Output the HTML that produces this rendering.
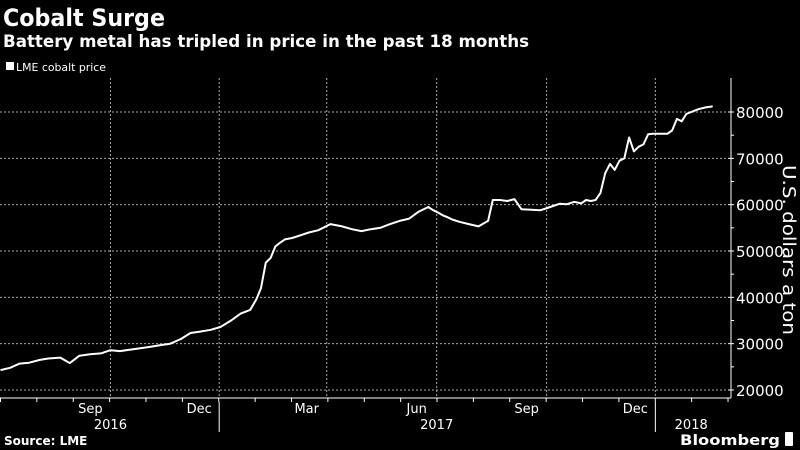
<!DOCTYPE html>
<html><head><meta charset="utf-8"><style>
html,body{margin:0;padding:0;background:#000;}
svg{display:block;}
text{font-family:"DejaVu Sans","Liberation Sans",sans-serif;fill:#fff;}
</style></head><body>
<svg id="chart" width="800" height="450">
<rect width="800" height="450" fill="#000"/>
<text x="3" y="26" font-size="24" font-weight="bold" textLength="162" lengthAdjust="spacingAndGlyphs">Cobalt Surge</text>
<text x="3" y="47" font-size="17" font-weight="bold" textLength="526" lengthAdjust="spacingAndGlyphs">Battery metal has tripled in price in the past 18 months</text>
<rect x="6" y="62" width="8" height="8" fill="#fff"/>
<text x="16" y="71" font-size="11" font-family="Liberation Sans" textLength="90" lengthAdjust="spacingAndGlyphs">LME cobalt price</text>
<g id="grid"></g>
<g id="axes"></g>
<path id="line" fill="none" stroke="#fff" stroke-width="2" stroke-linejoin="round"/>
<text transform="translate(783,250) rotate(90)" text-anchor="middle" font-size="18" font-family="Liberation Sans" textLength="170" lengthAdjust="spacingAndGlyphs">U.S. dollars a ton</text>
<text x="4" y="445" font-size="12" font-weight="bold">Source: LME</text>
<text x="780" y="445" text-anchor="end" font-size="14" font-weight="bold" textLength="100" lengthAdjust="spacingAndGlyphs">Bloomberg</text>
<rect x="785" y="432" width="8" height="14" rx="1" fill="#fff"/>
</svg>
<script>
// days since 2016-06-01
const days=[0,8,16,24,33,40,50,58,66,75,84,92,100,108,117,125,134,142,151,159,167,176,184,193,201,209,214,218,222,226,230,234,238,244,250,258,266,276,286,294,302,310,318,326,334,342,350,358,362,366,370,374,378,384,392,400,408,412,418,424,430,436,444,452,460,468,474,480,486,490,494,498,502,506,510,514,518,522,526,530,534,538,542,546,550,554,558,562,566,570,574,578,584,590,596];
const prices=[24300,24800,25700,25900,26500,26800,27000,25800,27400,27700,27900,28600,28400,28700,29000,29300,29700,30000,31000,32300,32600,33000,33600,35000,36500,37300,39500,42000,47500,48500,51000,51800,52500,52800,53300,54000,54500,55800,55300,54700,54300,54700,55000,55800,56500,57000,58500,59500,58800,58300,57700,57300,56800,56300,55800,55300,56500,61000,61000,60800,61200,59000,58900,58800,59500,60200,60100,60600,60300,61000,60800,61000,62500,66800,68800,67500,69500,70000,74500,71500,72500,73000,75200,75300,75300,75300,75300,76000,78500,78000,79600,80000,80600,81000,81200];
const yTicks=[20000,30000,40000,50000,60000,70000,80000];
const monthLabels=["Sep","Dec","Mar","Jun","Sep","Dec"];
const monthDays=[92,183,273,365,457,548];
const yearLabels=["2016","2017","2018"];
const yearDays=[92,365,578];
const NS="http://www.w3.org/2000/svg";
const xs=d=>d*1.195+0.5;
const ys=v=>390-(v-20000)*(278/60000);
function mk(tag,attrs,parent){const e=document.createElementNS(NS,tag);for(const k in attrs)e.setAttribute(k,attrs[k]);parent.appendChild(e);return e;}
const grid=document.getElementById('grid'),axes=document.getElementById('axes');
yTicks.forEach(v=>{
 const l=mk('line',{x1:0,x2:728,y1:ys(v),y2:ys(v),stroke:'#aaa','stroke-width':1,'stroke-dasharray':'2,2'},grid);
 
 
 const t=mk('line',{x1:728,x2:734,y1:ys(v),y2:ys(v),stroke:'#fff'},axes);
 
 
 const tx=mk('text',{x:736,y:ys(v)+6,'font-size':15,'font-family':'Liberation Sans'},axes);
 tx.textContent=v;
 
 
});
for(let v=25000;v<85000;v+=10000){const t=mk('line',{x1:731,x2:734,y1:ys(v),y2:ys(v),stroke:'#fff'},axes);
 
 }
monthDays.forEach((d,i)=>{
 const l=mk('line',{x1:xs(d),x2:xs(d),y1:78,y2:398,stroke:'#aaa','stroke-dasharray':'2,2'},grid);
 
 
 const t=mk('text',{x:xs(d)-20,y:413,'font-size':13,'text-anchor':'middle','font-family':'Liberation Sans'},axes);
 t.textContent=monthLabels[i];
 
 
});
for(let m=0;m<21;m++){const x=xs(m*30.44);const t=mk('line',{x1:x,x2:x,y1:398,y2:402,stroke:'#fff'},axes);
 
 }
const ax=mk('line',{x1:0,x2:731,y1:398,y2:398,stroke:'#fff'},axes);


const ay=mk('line',{x1:731,x2:731,y1:78,y2:398,stroke:'#fff'},axes);


[xs(183),xs(548)].forEach(x=>{const s=mk('line',{x1:x,x2:x,y1:402,y2:432,stroke:'#fff'},axes);
 
 });
yearLabels.forEach((y,i)=>{const t=mk('text',{x:xs(yearDays[i]),y:429,'font-size':13,'text-anchor':'middle','font-family':'Liberation Sans'},axes);
 t.textContent=y;
 
 });
let d='';days.forEach((dd,i)=>{d+=(i?'L':'M')+xs(dd).toFixed(1)+','+ys(prices[i]).toFixed(1);});
document.getElementById('line').setAttribute('d',d);
</script>
</body></html>
